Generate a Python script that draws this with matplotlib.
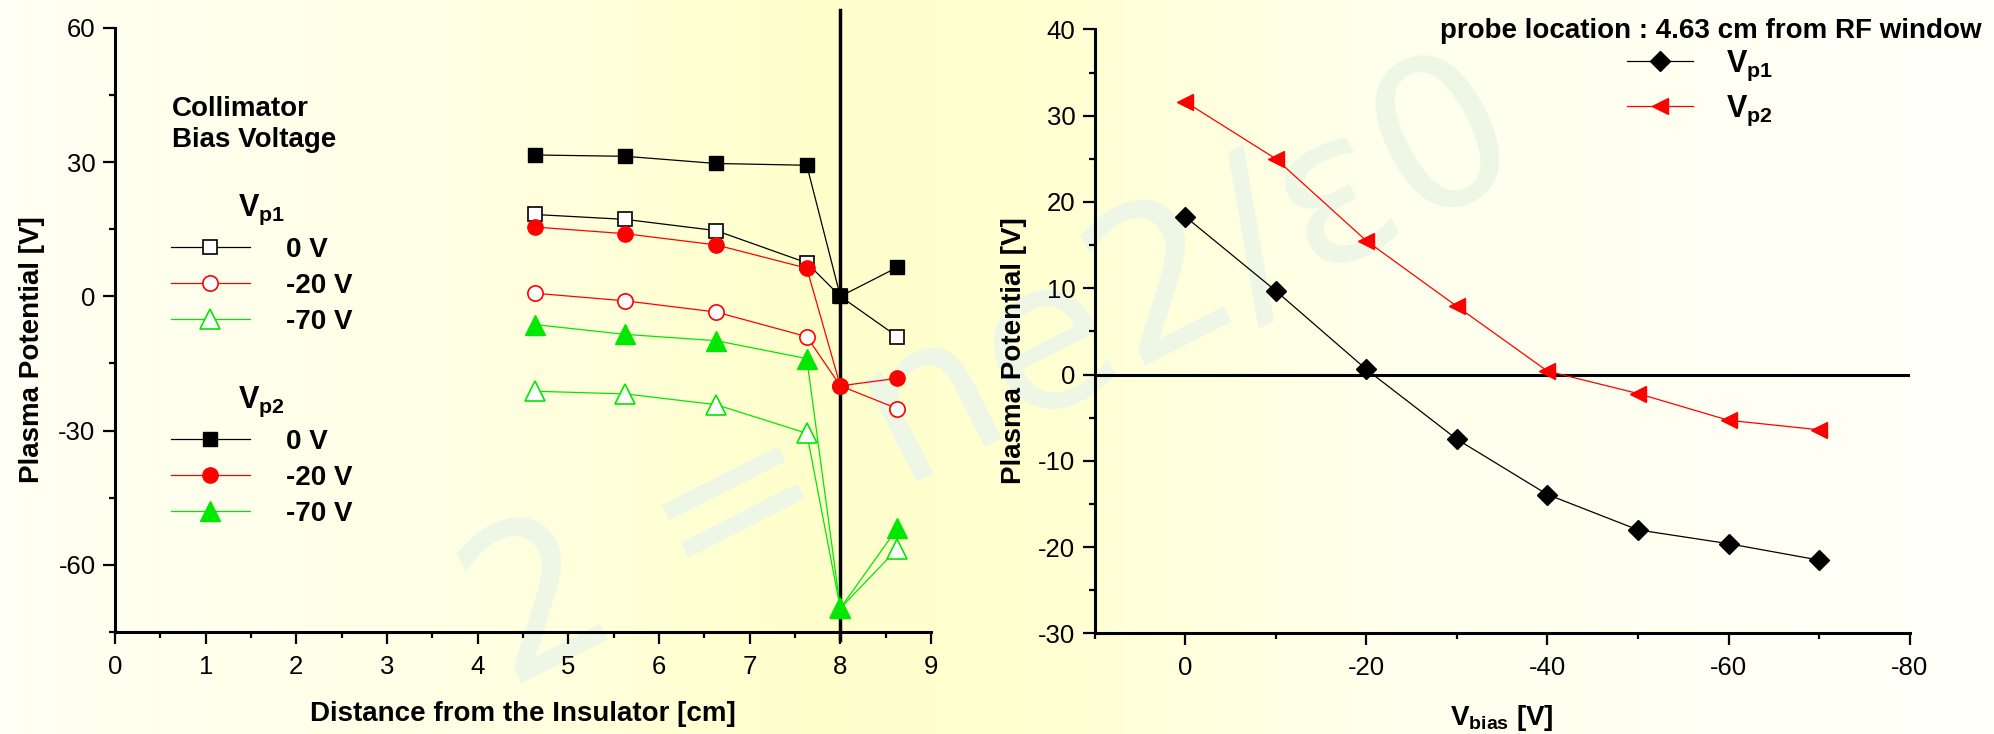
import numpy as np
import matplotlib
matplotlib.use("Agg")
import matplotlib.pyplot as plt
from matplotlib.ticker import MultipleLocator, FixedLocator, FuncFormatter
from matplotlib.colors import LinearSegmentedColormap

plt.rcParams['font.family'] = ['Liberation Sans', 'DejaVu Sans']
plt.rcParams['mathtext.fontset'] = 'custom'
plt.rcParams['mathtext.rm'] = 'Liberation Sans:bold'
plt.rcParams['mathtext.bf'] = 'Liberation Sans:bold'
plt.rcParams['mathtext.it'] = 'Liberation Sans:bold'

# ---------------- data ----------------
distance = [4.63, 5.63, 6.63, 7.63, 8.0, 8.63]
vp1_0 = [18.3, 17.2, 14.7, 7.5, 0.0, -9.0]
vp1_20 = [0.7, -1.0, -3.5, -9.0, -20.0, -25.1]
vp1_70 = [-21.2, -21.8, -24.2, -30.6, -69.7, -56.4]
vp2_0 = [31.6, 31.3, 29.7, 29.3, 0.0, 6.5]
vp2_20 = [15.5, 14.0, 11.5, 6.3, -20.0, -18.3]
vp2_70 = [-6.3, -8.5, -9.9, -13.9, -69.7, -51.8]
bias_labels = ['0 V', '-20 V', '-70 V']

vbias = [0, -10, -20, -30, -40, -50, -60, -70]
vp1_bias = [18.3, 9.7, 0.6, -7.5, -13.9, -18.0, -19.6, -21.5]
vp2_bias = [31.6, 25.0, 15.5, 7.9, 0.4, -2.2, -5.3, -6.4]

GREEN = '#00e800'
RED = '#ff0000'
FS = 20
TFS = 18.5

fig = plt.figure(figsize=(19.94, 7.34), dpi=100)

# background gradient
bg = fig.add_axes([0, 0, 1, 1], zorder=-10)
cmap = LinearSegmentedColormap.from_list('bg', [
    (0.0, (1.0, 1.0, 0.955)),
    (0.22, (1.0, 1.0, 0.90)),
    (0.40, (1.0, 1.0, 0.80)),
    (0.52, (1.0, 1.0, 0.82)),
    (0.70, (1.0, 1.0, 0.93)),
    (1.0, (1.0, 1.0, 0.975))])
bg.imshow(np.linspace(0, 1, 400)[None, :], aspect='auto', cmap=cmap,
          extent=[0, 1, 0, 1])
bg.set_axis_off()
bg.text(0.255, 0.06, '2 = ne2/ε0', transform=bg.transAxes, fontsize=150,
        family='DejaVu Sans', color=(0.935, 0.968, 0.90), rotation=27,
        rotation_mode='anchor', ha='left', va='baseline', zorder=1)

# ---------------- left panel ----------------
ax1 = fig.add_axes([0.0577, 0.139, 0.4092, 0.823])
ax1.set_facecolor('none')
lw = 0.9
l10, = ax1.plot(distance, vp1_0, '-s', color='black', lw=lw, ms=9.5,
                mfc='white', mec='black', mew=1.2)
l120, = ax1.plot(distance, vp1_20, '-o', color=RED, lw=lw, ms=11,
                 mfc='white', mec=RED, mew=1.2)
l170, = ax1.plot(distance, vp1_70, '-^', color=GREEN, lw=lw, ms=15,
                 mfc='white', mec=GREEN, mew=1.2)
l20, = ax1.plot(distance, vp2_0, '-s', color='black', lw=lw, ms=9.5)
l220, = ax1.plot(distance, vp2_20, '-o', color=RED, lw=lw, ms=11)
l270, = ax1.plot(distance, vp2_70, '-^', color=GREEN, lw=lw, ms=15)
ax1.axvline(8, ymin=-0.013, ymax=1.03, color='black', lw=2.5, clip_on=False,
            zorder=1.5)

ax1.set_xlim(0, 9)
ax1.set_ylim(-75, 60)
ax1.xaxis.set_major_locator(MultipleLocator(1))
ax1.xaxis.set_minor_locator(MultipleLocator(0.5))
ax1.yaxis.set_major_locator(MultipleLocator(30))
ax1.yaxis.set_minor_locator(MultipleLocator(15))

ax1.set_xlabel('Distance from the Insulator [cm]', fontsize=FS,
               fontweight='bold')
ax1.set_ylabel('Plasma Potential [V]', fontsize=FS, fontweight='bold')
ax1.xaxis.set_label_coords(0.5, -0.115)
ax1.yaxis.set_label_coords(-0.086, 0.467)

ax1.text(0.07, 0.888, 'Collimator\nBias Voltage', transform=ax1.transAxes,
         fontsize=FS, fontweight='bold', va='top', ha='left',
         linespacing=1.25)

leg_kw = dict(frameon=False, fontsize=FS, handlelength=2.85,
              handletextpad=1.3, labelspacing=0.36, borderpad=0,
              borderaxespad=0, loc='upper left', title_fontsize=FS + 2)
leg1 = ax1.legend([l10, l120, l170], bias_labels,
                  title=r'$\mathbf{V}_{\mathbf{p1}}$',
                  bbox_to_anchor=(0.068, 0.727), **leg_kw)
for t in leg1.get_texts():
    t.set_fontweight('bold')
ax1.add_artist(leg1)
leg2 = ax1.legend([l20, l220, l270], bias_labels,
                  title=r'$\mathbf{V}_{\mathbf{p2}}$',
                  bbox_to_anchor=(0.068, 0.41), **leg_kw)
for t in leg2.get_texts():
    t.set_fontweight('bold')

# ---------------- right panel ----------------
ax2 = fig.add_axes([0.549, 0.137, 0.4087, 0.823])
ax2.set_facecolor('none')
r1, = ax2.plot(vbias, vp1_bias, '-D', color='black', lw=lw, ms=10)
r2, = ax2.plot(vbias, vp2_bias, '-<', color=RED, lw=lw, ms=12)
ax2.axhline(0, color='black', lw=2.2, zorder=1.5)
ax2.set_xlim(10, -80)
ax2.set_ylim(-30, 40)
ax2.xaxis.set_major_locator(MultipleLocator(20))
ax2.xaxis.set_minor_locator(FixedLocator([10, -10, -30, -50, -70]))
ax2.yaxis.set_major_locator(MultipleLocator(10))
ax2.yaxis.set_minor_locator(MultipleLocator(5))
ax2.xaxis.set_major_formatter(FuncFormatter(lambda v, p: '%d' % v))
ax2.yaxis.set_major_formatter(FuncFormatter(lambda v, p: '%d' % v))
ax1.yaxis.set_major_formatter(FuncFormatter(lambda v, p: '%d' % v))

ax2.set_xlabel(r'V$_{\mathrm{bias}}$ [V]', fontsize=FS, fontweight='bold')
ax2.set_ylabel('Plasma Potential [V]', fontsize=FS, fontweight='bold')
ax2.xaxis.set_label_coords(0.5, -0.115)
ax2.yaxis.set_label_coords(-0.083, 0.469)

ax2.text(1.088, 0.998, 'probe location : 4.63 cm from RF window',
         transform=ax2.transAxes, fontsize=FS, fontweight='bold',
         ha='right', va='center', clip_on=False)
leg3 = ax2.legend([r1, r2], [r'$\mathbf{V}_{\mathbf{p1}}$',
                             r'$\mathbf{V}_{\mathbf{p2}}$'],
                  frameon=False, fontsize=FS + 2, handlelength=2.15,
                  handletextpad=1.1, labelspacing=0.35, borderpad=0,
                  borderaxespad=0, loc='upper left',
                  bbox_to_anchor=(0.653, 0.968))

for ax in (ax1, ax2):
    for s in ('top', 'right'):
        ax.spines[s].set_visible(False)
    for s in ('left', 'bottom'):
        ax.spines[s].set_linewidth(2.2)
    ax.tick_params(which='major', direction='out', length=8.5, width=1.6,
                   labelsize=TFS)
    ax.tick_params(which='minor', direction='out', length=4.5, width=1.6)
    ax.tick_params(axis='x', which='major', pad=8)
    ax.tick_params(axis='y', which='major', pad=5.5)

fig.savefig('out.png', dpi=100)
